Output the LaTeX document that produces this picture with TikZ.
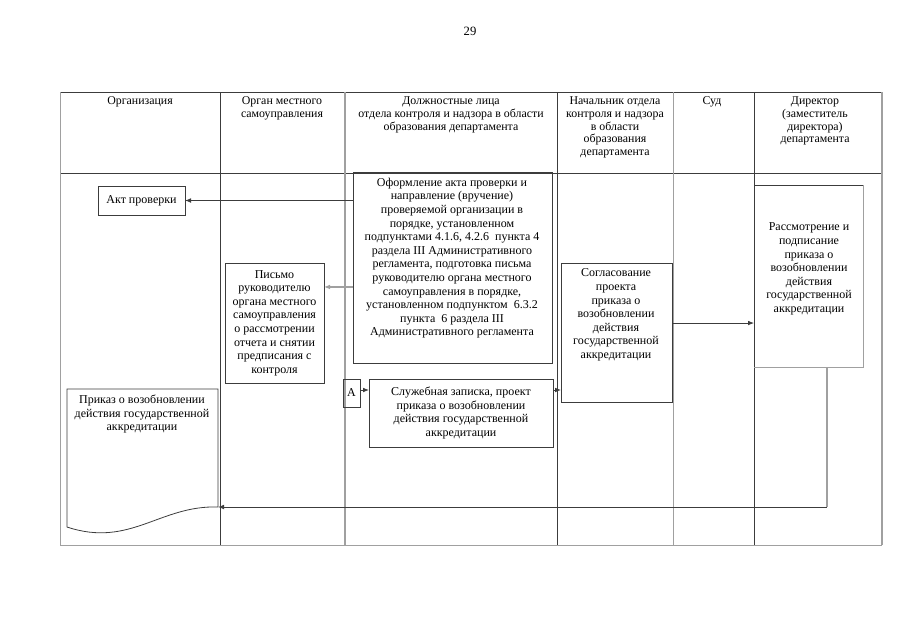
\documentclass[tikz,border=0pt]{standalone}
\usepackage{fontspec}
\setmainfont{Liberation Serif}
\usetikzlibrary{arrows.meta}
\definecolor{line-dark}{HTML}{3C3C3C}
\definecolor{line-grey}{HTML}{A0A0A0}

\begin{document}
\begin{tikzpicture}[x=0.75pt, y=-0.75pt, >={Latex[length=4.5pt,width=3.5pt]},
    every node/.style={font=\fontsize{9}{10.2}\selectfont, inner sep=0pt, outer sep=0pt},
    head/.style={anchor=north, align=center, font=\fontsize{8.9}{9.5}\selectfont},
    box/.style={draw=line-dark, line width=0.7pt, anchor=north west, align=center},
    txt/.style={anchor=north, align=center}]
    \useasboundingbox (0,0) rectangle (905,640);
    \node (pageNo) at (470,31) {\fontsize{9.5}{11}\selectfont 29};

    % table
    \draw[line-dark, line width=0.6pt] (60,92) -- (882,92);
    \draw[line-dark, line width=0.6pt] (60,173) -- (882,173);
    \foreach \x in {220,557,754}
      \draw[line-dark, line width=0.6pt] (\x,92) -- (\x,545);
    \draw[line-grey, line width=1.5pt] (345,92) -- (345,545);
    \draw[line-grey, line width=0.6pt] (673,92) -- (673,545);
    \draw[line-grey, line width=0.6pt] (60,92) -- (60,545) -- (882,545);
    \draw[line-grey, line width=1.5pt] (882,92) -- (882,545);

    \node[head] (hOrg) at (140,97) {Организация};
    \node[head] (hOms) at (282,97) {Орган местного\\самоуправления};
    \node[head] (hDol) at (451,97)
      {Должностные лица\\отдела контроля и надзора в области\\образования департамента};
    \node[head] (hNach) at (615,97)
      {Начальник отдела\\контроля и надзора\\в области\\образования\\департамента};
    \node[head] (hSud) at (712,97) {Суд};
    \node[head] (hDir) at (815,97) {Директор\\(заместитель\\директора)\\департамента};

    % boxes
    \node[box, minimum width=65.25pt, minimum height=21.75pt] (akt) at (98,186) {Акт проверки};
    \node[box, minimum width=74.25pt, minimum height=90pt] (pismo) at (225,263)
      {Письмо\\руководителю\\органа местного\\самоуправления\\о рассмотрении\\отчета и снятии\\предписания с\\контроля};
    \node[box, minimum width=149.25pt, minimum height=143.25pt] (ofo) at (353,172) {};
    \node[txt] (ofoText) at (452,178)
      {Оформление акта проверки и\\направление (вручение)\\проверяемой организации в\\порядке, установленном\\подпунктами 4.1.6, 4.2.6~ пункта 4\\раздела III Административного\\регламента, подготовка письма\\руководителю органа местного\\самоуправления в порядке,\\установленном подпунктом~ 6.3.2\\пункта~ 6 раздела III\\Административного регламента};
    \node[box, minimum width=12.75pt, minimum height=21pt] (abox) at (343,379) {А};
    \node[box, minimum width=138pt, minimum height=51pt] (slz) at (369,379)
      {Служебная записка, проект\\приказа о возобновлении\\действия государственной\\аккредитации};
    \node[box, minimum width=83.25pt, minimum height=104.25pt] (sogl) at (561,263) {};
    \node[txt] (soglText) at (616,269)
      {Согласование\\проекта\\приказа о\\возобновлении\\действия\\государственной\\аккредитации};
    \node[box, minimum width=81.75pt, minimum height=136.5pt] (rass) at (754,185) {};
    \draw[line-grey, line width=0.7pt] (rass.north east) -- (rass.south east) -- (rass.south west);
    \node[txt] (rassText) at (809,223)
      {Рассмотрение и\\подписание\\приказа о\\возобновлении\\действия\\государственной\\аккредитации};

    % document
    \coordinate (prikazIn) at (218,507);
    \draw[line-dark, line width=0.6pt] (67,389) -- (218,389) -- (prikazIn)
      .. controls (160,505) and (130,548) .. (67,527) -- cycle;
    \node[txt] (prikazText) at (142,395)
      {Приказ о возобновлении\\действия государственной\\аккредитации};

    % arrows
    \draw[->, line-dark, line width=0.6pt] (ofo.west |- akt.east) -- (akt.east);
    \draw[->, line-grey, line width=0.8pt] ([yshift=-14.6pt]ofo.west) -- ([yshift=-14.6pt]ofo.west -| pismo.east);
    \draw[->, line-dark, line width=0.6pt] ([yshift=2.25pt]abox.east) -- ([yshift=2.25pt]abox.east -| slz.west);
    \draw[->, line-dark, line width=0.6pt] ([yshift=17.25pt]slz.east) -- ([yshift=17.25pt]slz.east -| sogl.west);
    \draw[->, line-dark, line width=0.6pt] ([yshift=7.1pt]sogl.east) -- ([yshift=7.1pt]sogl.east -| rass.west);
    \coordinate (turn) at ([xshift=13.9pt]rass.south |- prikazIn);
    \draw[line-grey, line width=1.2pt] ([xshift=13.9pt]rass.south) -- (turn);
    \draw[->, line-dark, line width=0.6pt] (turn) -- (prikazIn);
  \end{tikzpicture}
\end{document}
